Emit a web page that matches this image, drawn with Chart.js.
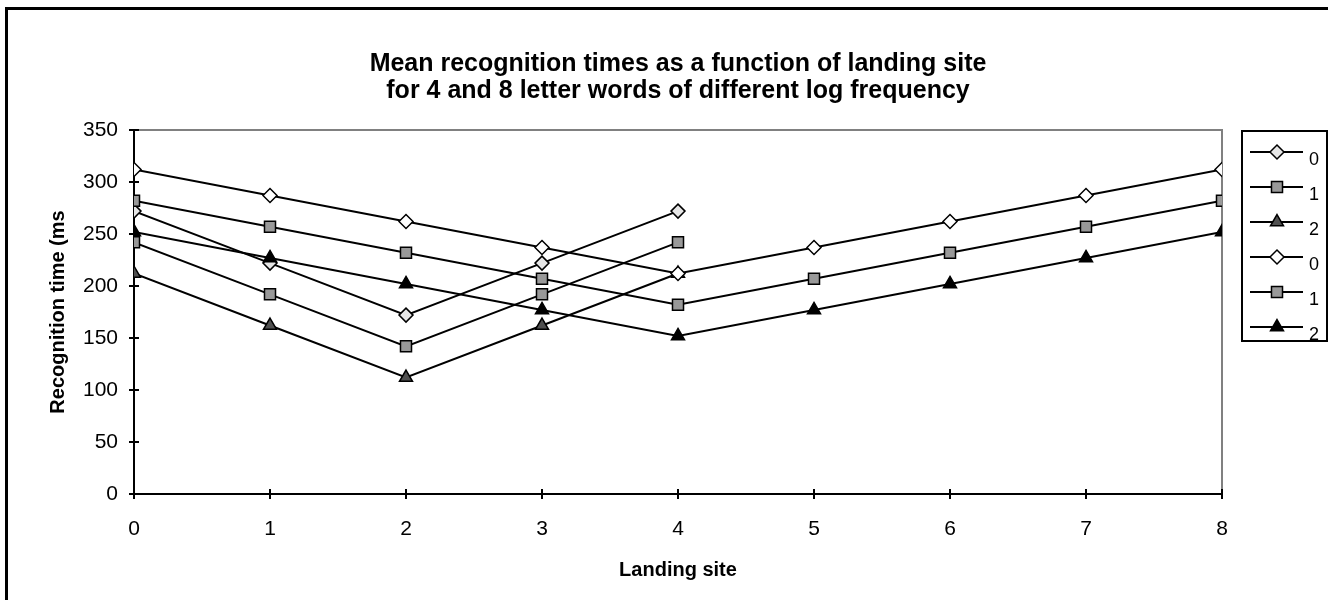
<!DOCTYPE html>
<html>
<head>
<meta charset="utf-8">
<title>Mean recognition times</title>
<script src="https://cdn.jsdelivr.net/npm/chart.js@4.4.1/dist/chart.umd.min.js"></script>
<style>
  html, body { margin: 0; padding: 0; background: #ffffff; }
  canvas { display: block; }
</style>
</head>
<body>
<canvas id="recognitionChart" width="1336" height="600"></canvas>
<script>
// Landing sites for the two word lengths
const sites4 = [0, 1, 2, 3, 4];
const sites8 = [0, 1, 2, 3, 4, 5, 6, 7, 8];

// 4 letter words, log frequency 0 / 1 / 2
const fourFreq0 = [272, 222, 172, 222, 272];
const fourFreq1 = [242, 192, 142, 192, 242];
const fourFreq2 = [212, 162, 112, 162, 212];

// 8 letter words, log frequency 0 / 1 / 2
const eightFreq0 = [312, 287, 262, 237, 212, 237, 262, 287, 312];
const eightFreq1 = [282, 257, 232, 207, 182, 207, 232, 257, 282];
const eightFreq2 = [252, 227, 202, 177, 152, 177, 202, 227, 252];

const seriesLabels = ['0', '1', '2', '0', '1', '2'];
const titleLines = [
    'Mean recognition times as a function of landing site',
    'for 4 and 8 letter words of different log frequency'
];
const xTitle = 'Landing site';
const yTitle = 'Recognition time (ms';

const FONT = '"Liberation Sans", Arial, Helvetica, sans-serif';

function toPoints(xs, ys) {
    return xs.map((x, i) => ({ x: x, y: ys[i] }));
}

function makeSeries(label, xs, ys, style, fill, radius, order) {
    return {
        label: label,
        data: toPoints(xs, ys),
        borderColor: '#000000',
        borderWidth: 2,
        pointStyle: style,
        pointRadius: radius,
        pointBackgroundColor: fill,
        pointBorderColor: '#000000',
        pointBorderWidth: 1.5,
        tension: 0,
        fill: false,
        order: order
    };
}

const datasets = [
    makeSeries(seriesLabels[0], sites4, fourFreq0, 'rectRot', '#e6e6e6', 7, 1),
    makeSeries(seriesLabels[1], sites4, fourFreq1, 'rect', '#999999', 7.8, 1),
    makeSeries(seriesLabels[2], sites4, fourFreq2, 'triangle', '#505050', 7.5, 1),
    makeSeries(seriesLabels[3], sites8, eightFreq0, 'rectRot', '#ffffff', 7, 0),
    makeSeries(seriesLabels[4], sites8, eightFreq1, 'rect', '#999999', 7.8, 0),
    makeSeries(seriesLabels[5], sites8, eightFreq2, 'triangle', '#000000', 7.5, 0)
];

// white page, the thick frame and the grey plot border
const framePlugin = {
    id: 'frame',
    beforeDraw(chart) {
        const ctx = chart.ctx;
        ctx.save();
        ctx.fillStyle = '#ffffff';
        ctx.fillRect(0, 0, chart.width, chart.height);
        ctx.strokeStyle = '#000000';
        ctx.lineWidth = 3;
        ctx.beginPath();
        ctx.moveTo(6.5, chart.height);
        ctx.lineTo(6.5, 8.5);
        ctx.lineTo(1328, 8.5);
        ctx.stroke();

        const a = chart.chartArea;
        ctx.strokeStyle = '#808080';
        ctx.lineWidth = 2;
        ctx.beginPath();
        ctx.moveTo(a.left, a.top);
        ctx.lineTo(a.right, a.top);
        ctx.lineTo(a.right, a.bottom);
        ctx.stroke();
        ctx.restore();
    },
    // tick marks crossing the axis lines
    afterDraw(chart) {
        const ctx = chart.ctx;
        const xScale = chart.scales.x;
        const yScale = chart.scales.y;
        const a = chart.chartArea;
        ctx.save();
        ctx.strokeStyle = '#000000';
        ctx.lineWidth = 2;
        ctx.beginPath();
        xScale.ticks.forEach(t => {
            const px = xScale.getPixelForValue(t.value);
            ctx.moveTo(px, a.bottom - 5);
            ctx.lineTo(px, a.bottom + 5);
        });
        yScale.ticks.forEach(t => {
            const py = yScale.getPixelForValue(t.value);
            ctx.moveTo(a.left - 5, py);
            ctx.lineTo(a.left + 5, py);
        });
        ctx.stroke();
        ctx.restore();
    }
};

// boxed legend at the right of the plot
const legendPlugin = {
    id: 'boxLegend',
    afterDraw(chart) {
        const ctx = chart.ctx;
        const a = chart.chartArea;
        const boxLeft = a.right + 20;
        const boxTop = a.top + 1;
        const boxW = 85;
        const boxH = 210;
        ctx.save();
        ctx.strokeStyle = '#000000';
        ctx.lineWidth = 2;
        ctx.strokeRect(boxLeft, boxTop, boxW, boxH);

        const rowH = 35;
        ctx.font = '18px ' + FONT;
        ctx.textAlign = 'left';
        ctx.textBaseline = 'middle';
        chart.data.datasets.forEach((ds, i) => {
            const cy = boxTop + 21 + i * rowH;
            ctx.strokeStyle = '#000000';
            ctx.lineWidth = 2;
            ctx.beginPath();
            ctx.moveTo(boxLeft + 8, cy);
            ctx.lineTo(boxLeft + 61, cy);
            ctx.stroke();
            ctx.fillStyle = ds.pointBackgroundColor;
            ctx.strokeStyle = '#000000';
            ctx.lineWidth = 1.5;
            Chart.helpers.drawPoint(ctx, {
                pointStyle: ds.pointStyle,
                radius: ds.pointRadius,
                rotation: 0,
                borderWidth: 1.5
            }, boxLeft + 35, cy);
            ctx.fillStyle = '#000000';
            ctx.fillText(ds.label, boxLeft + 67, cy + 8);
        });
        ctx.restore();
    }
};

const ctx = document.getElementById('recognitionChart').getContext('2d');
const recognitionChart = new Chart(ctx, {
    type: 'line',
    data: { datasets: datasets },
    options: {
        responsive: false,
        animation: false,
        layout: {
            padding: { left: 0, top: 0, right: 114, bottom: 0 }
        },
        plugins: {
            legend: { display: false },
            tooltip: { enabled: false },
            title: {
                display: true,
                fullSize: false,
                text: titleLines,
                color: '#000000',
                font: { family: FONT, size: 25, weight: 'bold', lineHeight: 1.08 },
                padding: { top: 51, bottom: 25 }
            }
        },
        scales: {
            x: {
                type: 'linear',
                min: 0,
                max: 8,
                afterFit: scale => { scale.height = 106; },
                ticks: {
                    stepSize: 1,
                    color: '#000000',
                    padding: 23,
                    font: { family: FONT, size: 21 }
                },
                grid: { display: true, drawOnChartArea: false, drawTicks: false },
                border: { display: true, color: '#000000', width: 2 },
                title: {
                    display: true,
                    text: xTitle,
                    color: '#000000',
                    font: { family: FONT, size: 20, weight: 'bold' },
                    padding: { top: 0, bottom: 18 }
                }
            },
            y: {
                min: 0,
                max: 350,
                afterFit: scale => { scale.width = 134; },
                ticks: {
                    stepSize: 50,
                    color: '#000000',
                    padding: 16,
                    font: { family: FONT, size: 21 }
                },
                grid: { display: true, drawOnChartArea: false, drawTicks: false },
                border: { display: true, color: '#000000', width: 2 },
                title: {
                    display: true,
                    text: yTitle,
                    color: '#000000',
                    font: { family: FONT, size: 20, weight: 'bold' },
                    padding: { top: 46, bottom: 0 }
                }
            }
        }
    },
    plugins: [framePlugin, legendPlugin]
});
</script>
</body>
</html>
